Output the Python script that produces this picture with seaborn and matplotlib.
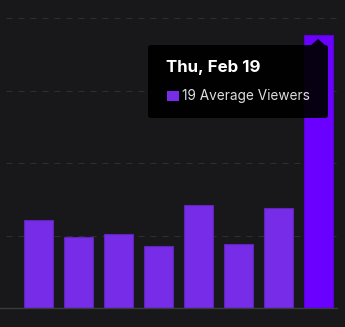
import matplotlib
matplotlib.use("Agg")
import matplotlib.pyplot as plt
import seaborn as sns
import pandas as pd
from matplotlib.patches import FancyBboxPatch, Polygon, Rectangle

days = ["Thu, Feb 12", "Fri, Feb 13", "Sat, Feb 14", "Sun, Feb 15",
        "Mon, Feb 16", "Tue, Feb 17", "Wed, Feb 18", "Thu, Feb 19"]
viewers = [6.1, 4.9, 5.1, 4.3, 7.1, 4.4, 6.9, 18.8]
bar_colors = ["#772ce8"] * 7 + ["#6a00ff"]
edge_colors = ["#5f25b8"] * 7 + ["#5a00d8"]
yticks = [0, 5, 10, 15, 20]
tooltip_title = "Thu, Feb 19"
tooltip_label = "19 Average Viewers"

BG = "#18181b"
sns.set_theme(style="dark")
plt.rcParams["font.family"] = ["Inter", "DejaVu Sans"]
plt.rcParams["lines.scale_dashes"] = False

W, H = 345, 327
fig = plt.figure(figsize=(W / 100, H / 100), dpi=100, facecolor=BG)
ax = fig.add_axes([0, 19 / H, 337 / W, 308 / H])
ax.set_facecolor(BG)

df = pd.DataFrame({"day": days, "viewers": viewers})
sns.barplot(data=df, x="day", y="viewers", hue="day", palette=bar_colors,
            legend=False, width=0.725, ax=ax, saturation=1, linewidth=0.8)
for patch, ec in zip(ax.patches, edge_colors):
    patch.set_edgecolor(ec)

ax.set_xlim(-0.9625, 7.4625)
ax.set_ylim(0, 308 / 14.5)
ax.set_yticks(yticks)
ax.yaxis.grid(True, color="#2e2e33", linewidth=0.75,
              linestyle=(4.32, (4.32, 4.32)))
ax.xaxis.grid(False)
ax.set_axisbelow(True)
ax.set_xticks([])
ax.tick_params(left=False, labelleft=False, bottom=False, labelbottom=False)
ax.set_xlabel("")
ax.set_ylabel("")
for s in ["top", "left", "right"]:
    ax.spines[s].set_visible(False)
ax.spines["bottom"].set_color("#3a3a3e")
ax.spines["bottom"].set_linewidth(1.0)

# Tooltip (figure pixel coordinates, y from top)
def fx(px):
    return px / W

def fy(py):
    return 1 - py / H

box = FancyBboxPatch((fx(148), fy(118)), fx(328) - fx(148), fy(45) - fy(118),
                     boxstyle="round,pad=0,rounding_size=0.008",
                     transform=fig.transFigure, facecolor="#000000",
                     alpha=0.93, edgecolor="none", zorder=10)
fig.patches.append(box)
notch = Polygon([(fx(311), fy(45)), (fx(318), fy(39)), (fx(325), fy(45))],
                closed=True, transform=fig.transFigure, facecolor="#000000",
                alpha=0.93, edgecolor="none", zorder=10)
fig.patches.append(notch)

fig.text(fx(166), fy(67.5), tooltip_title, color="white", fontsize=12.2,
         fontweight="bold", va="center", ha="left", zorder=11)
sq = Rectangle((fx(167), fy(101.5)), fx(179) - fx(167), fy(90.5) - fy(101.5),
               transform=fig.transFigure, facecolor="#772ce8",
               edgecolor="none", zorder=11)
fig.patches.append(sq)
fig.text(fx(182.5), fy(96), tooltip_label, color="#dedee3", fontsize=9.8,
         va="center", ha="left", zorder=11)

fig.savefig("out.png", dpi=100, facecolor=BG)
